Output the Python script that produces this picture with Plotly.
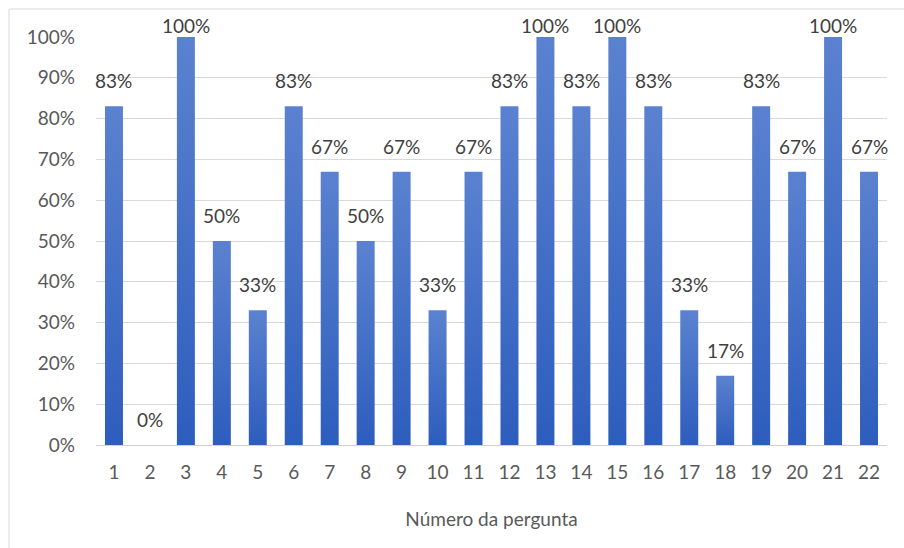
import plotly.graph_objects as go

# Share of correct answers per question (fractions of 1)
perguntas = list(range(1, 23))
rotulos_x = [str(p) for p in perguntas]
acertos = [0.83, 0.0, 1.0, 0.50, 0.33, 0.83, 0.67, 0.50, 0.67, 0.33, 0.67,
           0.83, 1.0, 0.83, 1.0, 0.83, 0.33, 0.17, 0.83, 0.67, 1.0, 0.67]
y_ticks = [0, 0.1, 0.2, 0.3, 0.4, 0.5, 0.6, 0.7, 0.8, 0.9, 1.0]

FONT = "Lato"
W, H = 904, 548
L, R, T, B = 96, 17, 37, 103
HALF = 0.25  # half of the bar width, in category units
TOP_COLOR = "#5b82d0"
BOTTOM_COLOR = "#2d5dbd"

fig = go.Figure()

# Each bar is a filled rectangle with a vertical gradient (dark at base, light at top)
for p, v in zip(perguntas, acertos):
    fig.add_trace(go.Scatter(
        x=[p - HALF, p + HALF, p + HALF, p - HALF, p - HALF],
        y=[0, 0, v, v, 0],
        mode="lines",
        line=dict(width=0, color=BOTTOM_COLOR),
        fill="toself",
        fillgradient=dict(
            type="vertical",
            start=0, stop=max(v, 1e-6),
            colorscale=[[0, BOTTOM_COLOR], [1, TOP_COLOR]],
        ),
        hoverinfo="skip",
        showlegend=False,
    ))

# Value labels above the bars; the full bars keep their label inside the chart area
for p, v in zip(perguntas, acertos):
    fig.add_annotation(
        x=p, y=v, text=f"{v:.0%}",
        showarrow=False, yanchor="bottom",
        yshift=-2 if v >= 1 else 12,
        font=dict(family=FONT, size=19, color="#404040"),
    )

pw = W - L - R
ph = H - T - B
fig.add_shape(
    type="rect", xref="paper", yref="paper",
    x0=(9 - L) / pw, x1=(W + 5 - L) / pw,
    y0=-(H + 5 - T - ph) / ph, y1=1 + (T - 9) / ph,
    line=dict(color="#d9d9d9", width=1), fillcolor="rgba(0,0,0,0)", layer="below",
)

fig.update_layout(
    width=W, height=H,
    margin=dict(l=L, r=R, t=T, b=B),
    paper_bgcolor="white", plot_bgcolor="white",
    showlegend=False,
    font=dict(family=FONT, color="#595959", size=19),
    xaxis=dict(
        range=[0.5, 22.5],
        tickvals=perguntas, ticktext=rotulos_x,
        showgrid=False, zeroline=False,
        showline=True, linecolor="#d0d0d0", linewidth=1,
        ticks="", tickfont=dict(size=19, color="#595959"),
        ticklabelstandoff=10,
        title=dict(text="Número da pergunta", font=dict(size=19, color="#595959"), standoff=30),
    ),
    yaxis=dict(
        range=[0, 1.0],
        tickvals=y_ticks, tickformat=".0%",
        showgrid=True, gridcolor="#d9d9d9", gridwidth=1,
        zeroline=False, showline=False, ticks="",
        tickfont=dict(size=19, color="#595959"),
        ticklabelstandoff=20,
    ),
)

fig.write_html("out.html")
